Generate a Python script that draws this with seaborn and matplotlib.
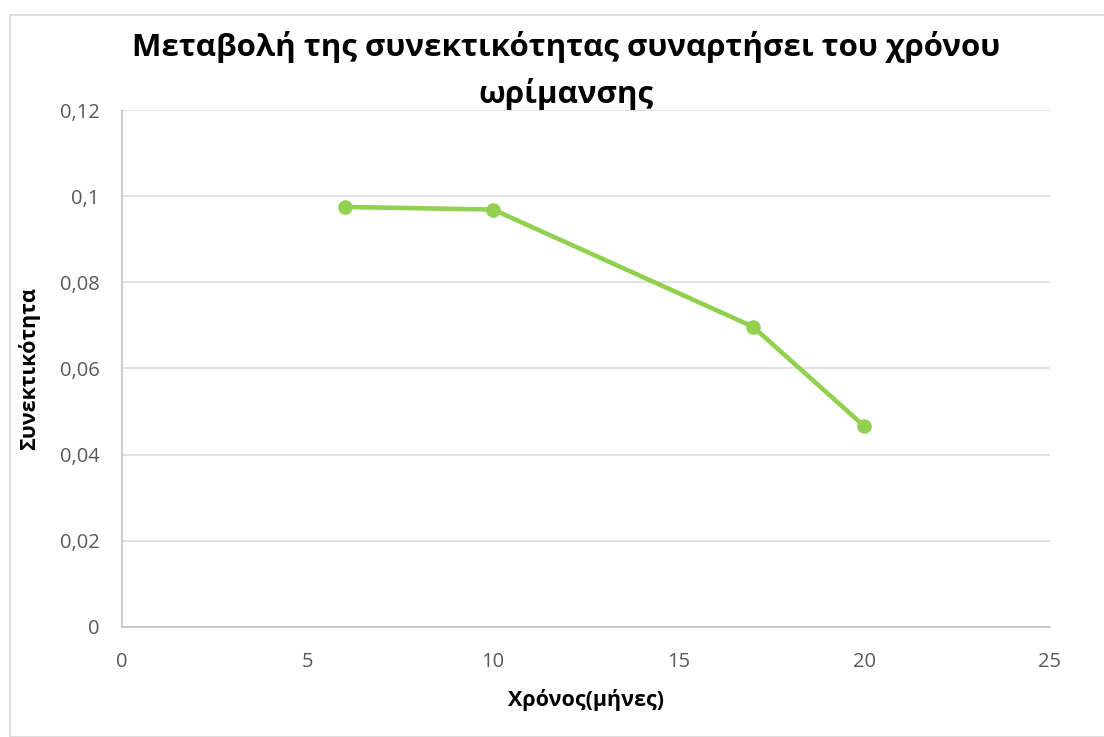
import matplotlib
matplotlib.use("Agg")
import matplotlib.pyplot as plt
import seaborn as sns
import pandas as pd
from matplotlib.ticker import FuncFormatter, MultipleLocator
from matplotlib.patches import Rectangle

months = [6, 10, 17, 20]
cohesion = [0.0975, 0.0969, 0.0697, 0.0466]

title = "Μεταβολή της συνεκτικότητας συναρτήσει του χρόνου\nωρίμανσης"
xlabel = "Χρόνος(μήνες)"
ylabel = "Συνεκτικότητα"

sns.set_theme(style="white")
plt.rcParams['font.family'] = ['Open Sans', 'DejaVu Sans']

df = pd.DataFrame({"x": months, "y": cohesion})

fig = plt.figure(figsize=(11.04, 7.37), dpi=100)
ax = fig.add_axes([0.1105, 0.1493, 0.8405, 0.7014])

sns.lineplot(data=df, x="x", y="y", ax=ax, color="#92D050", linewidth=3.3,
             marker="o", markersize=10.5, markeredgewidth=0, zorder=3)

ax.set_xlim(0, 25)
ax.set_ylim(0, 0.12)
ax.xaxis.set_major_locator(MultipleLocator(5))
ax.yaxis.set_major_locator(MultipleLocator(0.02))
fmt = FuncFormatter(lambda v, p: ('{:g}'.format(round(v, 4))).replace('.', ','))
ax.xaxis.set_major_formatter(fmt)
ax.yaxis.set_major_formatter(fmt)

ax.grid(axis='y', color='#D9D9D9', linewidth=1.1)
ax.grid(axis='x', visible=False)
for s in ['top', 'right']:
    ax.spines[s].set_visible(False)
for s in ['left', 'bottom']:
    ax.spines[s].set_color('#BFBFBF')
    ax.spines[s].set_linewidth(1.1)

ax.tick_params(axis='both', length=0, labelsize=14.5, colors='#595959')
ax.tick_params(axis='x', pad=18)
ax.tick_params(axis='y', pad=16)

ax.set_xlabel(xlabel, fontsize=15.5, fontweight='bold', color='black', labelpad=12)
ax.set_ylabel(ylabel, fontsize=15.5, fontweight='bold', color='black', labelpad=14)

fig.text(0.513, 0.958, title, ha='center', va='top', fontsize=22.5,
         fontweight='bold', color='black', linespacing=1.6)

fig.patches.append(Rectangle((10/1104, 0), 1.0, 1 - 15/737, transform=fig.transFigure,
                             fill=False, edgecolor='#D9D9D9', linewidth=1.2, clip_on=False))

fig.savefig("out.png", dpi=100, facecolor='white')
